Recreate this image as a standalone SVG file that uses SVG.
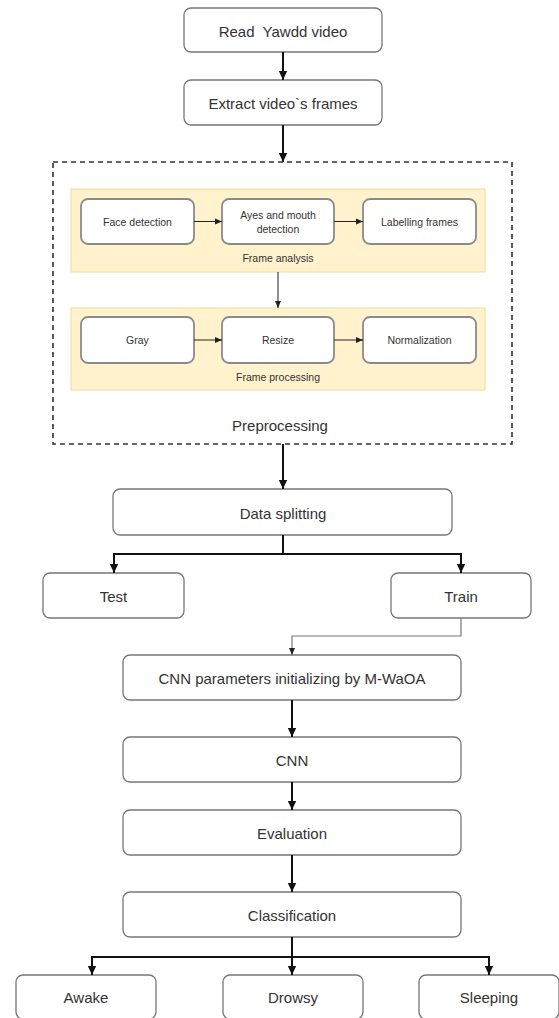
<svg xmlns="http://www.w3.org/2000/svg" width="559" height="1018" viewBox="0 0 559 1018">
<style>
.box{fill:#fff;stroke:#777;stroke-width:1.3}
.ibox{fill:#fff;stroke:#8a8a8a;stroke-width:1.8}
.panel{fill:#fff2cc;stroke:#eedc9a;stroke-width:1}
.t{font-family:"Liberation Sans",Arial,sans-serif;font-size:15px;fill:#333;text-anchor:middle;dominant-baseline:central;white-space:pre}
.ti{font-family:"Liberation Sans",Arial,sans-serif;font-size:10.5px;fill:#333;text-anchor:middle;dominant-baseline:central}
.c{fill:none;stroke:#111;stroke-width:2}
.ct{fill:none;stroke:#222;stroke-width:1}
.cg{fill:none;stroke:#777;stroke-width:1.2}
</style>
<defs>
<marker id="ah" markerUnits="userSpaceOnUse" markerWidth="10" markerHeight="10" refX="9" refY="5" orient="auto"><path d="M0,0.8 L9,5 L0,9.2 z" fill="#111"/></marker>
<marker id="ahs" markerUnits="userSpaceOnUse" markerWidth="8" markerHeight="8" refX="7" refY="4" orient="auto"><path d="M0,1 L7,4 L0,7 z" fill="#222"/></marker>
</defs>

<g id="preprocessing">
<rect x="53" y="162" width="459" height="282" fill="none" stroke="#333" stroke-width="1.6" stroke-dasharray="5,4"/>
<text class="t" x="280" y="425">Preprocessing</text>
</g>

<g id="frame-analysis">
<rect class="panel" x="71" y="189" width="414" height="83"/>
<text class="ti" x="278" y="258">Frame analysis</text>
</g>
<g id="frame-processing">
<rect class="panel" x="71" y="308" width="414" height="82"/>
<text class="ti" x="278" y="377">Frame processing</text>
</g>

<g id="read"><rect class="box" x="184" y="8" width="198" height="44" rx="7"/><text class="t" x="283" y="31">Read  Yawdd video</text></g>
<g id="extract"><rect class="box" x="184" y="80" width="198" height="45" rx="7"/><text class="t" x="283" y="103">Extract video`s frames</text></g>

<g id="face"><rect class="ibox" x="81" y="199" width="113" height="45" rx="7"/><text class="ti" x="137.5" y="221.5">Face detection</text></g>
<g id="ayes"><rect class="ibox" x="222" y="199" width="112" height="45" rx="7"/><text class="ti" x="278" y="215">Ayes and mouth</text><text class="ti" x="278" y="229">detection</text></g>
<g id="label"><rect class="ibox" x="363" y="199" width="113" height="45" rx="7"/><text class="ti" x="419.5" y="221.5">Labelling frames</text></g>

<g id="gray"><rect class="ibox" x="81" y="317" width="113" height="46" rx="7"/><text class="ti" x="137.5" y="340">Gray</text></g>
<g id="resize"><rect class="ibox" x="222" y="317" width="112" height="46" rx="7"/><text class="ti" x="278" y="340">Resize</text></g>
<g id="norm"><rect class="ibox" x="363" y="317" width="113" height="46" rx="7"/><text class="ti" x="419.5" y="340">Normalization</text></g>

<g id="split"><rect class="box" x="113" y="489" width="339" height="46" rx="7"/><text class="t" x="283" y="513">Data splitting</text></g>
<g id="test"><rect class="box" x="43" y="573" width="141" height="45" rx="7"/><text class="t" x="113.5" y="596">Test</text></g>
<g id="train"><rect class="box" x="391" y="573" width="140" height="45" rx="7"/><text class="t" x="461" y="596">Train</text></g>

<g id="init"><rect class="box" x="123" y="655" width="338" height="45" rx="7"/><text class="t" x="292" y="678">CNN parameters initializing by M-WaOA</text></g>
<g id="cnn"><rect class="box" x="123" y="737" width="338" height="45" rx="7"/><text class="t" x="292" y="760">CNN</text></g>
<g id="eval"><rect class="box" x="123" y="810" width="338" height="45" rx="7"/><text class="t" x="292" y="833">Evaluation</text></g>
<g id="class"><rect class="box" x="123" y="892" width="338" height="45" rx="7"/><text class="t" x="292" y="915">Classification</text></g>

<g id="awake"><rect class="box" x="16" y="975" width="140" height="44" rx="7"/><text class="t" x="86" y="997">Awake</text></g>
<g id="drowsy"><rect class="box" x="223" y="975" width="140" height="44" rx="7"/><text class="t" x="293" y="997">Drowsy</text></g>
<g id="sleeping"><rect class="box" x="419" y="975" width="140" height="44" rx="7"/><text class="t" x="489" y="997">Sleeping</text></g>

<g id="connectors">
<path class="c" d="M283,52 V80" marker-end="url(#ah)"/>
<path class="c" d="M283,125 V162" marker-end="url(#ah)"/>
<path class="ct" d="M194,221.5 H222" marker-end="url(#ahs)"/>
<path class="ct" d="M334,221.5 H363" marker-end="url(#ahs)"/>
<path class="ct" stroke="#444" d="M278,272 V308" marker-end="url(#ahs)"/>
<path class="ct" d="M194,340 H222" marker-end="url(#ahs)"/>
<path class="ct" d="M334,340 H363" marker-end="url(#ahs)"/>
<path class="c" d="M283,444 V489" marker-end="url(#ah)"/>
<path class="c" d="M283,535 V554"/>
<path class="c" d="M283,554 H114 V573" marker-end="url(#ah)"/>
<path class="c" d="M283,554 H461 V573" marker-end="url(#ah)"/>
<path class="cg" d="M461,618 V636 H292 V655" marker-end="url(#ahs)"/>
<path class="c" d="M292,700 V737" marker-end="url(#ah)"/>
<path class="c" d="M292,782 V810" marker-end="url(#ah)"/>
<path class="c" d="M292,855 V892" marker-end="url(#ah)"/>
<path class="c" d="M292,937 V975" marker-end="url(#ah)"/>
<path class="c" d="M292,957 H92 V975" marker-end="url(#ah)"/>
<path class="c" d="M292,957 H489 V975" marker-end="url(#ah)"/>
</g>
</svg>
